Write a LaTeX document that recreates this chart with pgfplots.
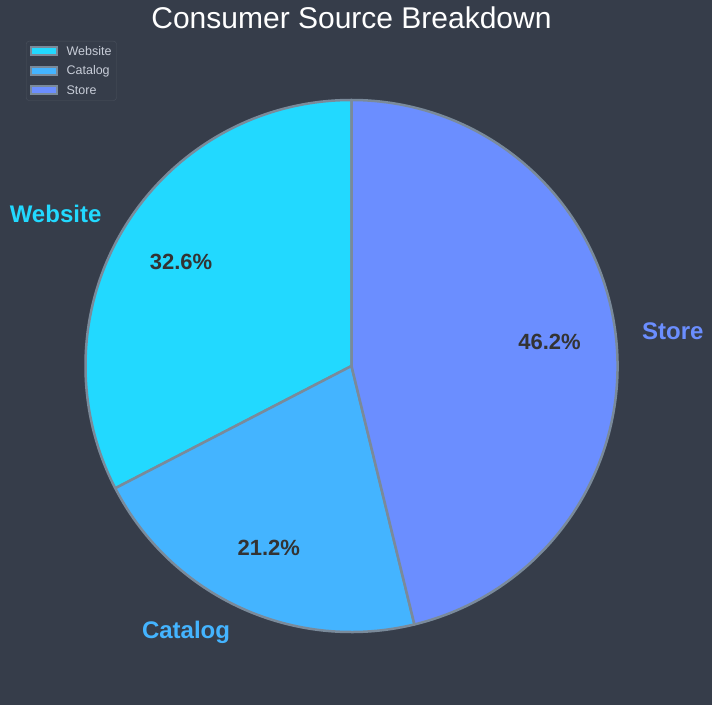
\documentclass[border=0pt]{standalone}
\usepackage{pgfplots}
\usepackage{pgfplotstable}
\pgfplotsset{compat=1.18}
\usepackage{fontspec}
\setmainfont{Liberation Sans}
\definecolor{bg}{HTML}{363D4A}
\definecolor{cweb}{HTML}{22D9FF}
\definecolor{ccat}{HTML}{44B4FF}
\definecolor{csto}{HTML}{6B8EFF}
\definecolor{edge}{HTML}{7A8A9A}
\definecolor{legtext}{HTML}{C8CDD8}
\definecolor{legborder}{HTML}{4A515D}
\definecolor{pcttext}{HTML}{333333}
\pgfplotstableread{
label pct
Website 32.6
Catalog 21.2
Store 46.2
}\datatable
\begin{document}
\begin{tikzpicture}
\pgfplotstablegetelem{0}{pct}\of\datatable \let\pA\pgfplotsretval
\pgfplotstablegetelem{1}{pct}\of\datatable \let\pB\pgfplotsretval
\pgfplotstablegetelem{2}{pct}\of\datatable \let\pC\pgfplotsretval
\pgfmathsetmacro\aA{90}
\pgfmathsetmacro\aB{90+3.6*\pA}
\pgfmathsetmacro\aC{\aB+3.6*\pB}
\pgfmathsetmacro\aD{\aC+3.6*\pC}
\pgfmathsetmacro\mA{(\aA+\aB)/2}
\pgfmathsetmacro\mB{(\aB+\aC)/2}
\pgfmathsetmacro\mC{(\aC+\aD)/2}
\begin{axis}[
  x=1pt, y=1pt, xmin=0, xmax=712, ymin=0, ymax=705,
  hide axis, clip=false, scale only axis,
  legend image code/.code={\draw[#1, sharp corners, line width=2pt] (0pt,-4pt) rectangle (26pt,4pt); \path (-1pt,0) (34pt,0);},
  legend style={at={(axis cs:26,664)}, anchor=north west, fill=bg, draw=legborder,
    rounded corners=3pt, text=legtext, font=\fontsize{12.5}{14}\selectfont,
    inner xsep=4pt, inner ysep=4pt, row sep=7pt, nodes={inner sep=1pt}},
  legend cell align=left,
]
\fill[bg] (axis cs:0,0) rectangle (axis cs:712,705);
\addlegendimage{fill=cweb, draw=edge}
\addlegendentry{Website}
\addlegendimage{fill=ccat, draw=edge}
\addlegendentry{Catalog}
\addlegendimage{fill=csto, draw=edge}
\addlegendentry{Store}
\filldraw[fill=cweb, draw=edge, line width=2.5pt, line join=round] (axis cs:351.5,339) -- ++(\aA:266pt) arc[start angle=\aA, end angle=\aB, radius=266pt] -- cycle;
\filldraw[fill=ccat, draw=edge, line width=2.5pt, line join=round] (axis cs:351.5,339) -- ++(\aB:266pt) arc[start angle=\aB, end angle=\aC, radius=266pt] -- cycle;
\filldraw[fill=csto, draw=edge, line width=2.5pt, line join=round] (axis cs:351.5,339) -- ++(\aC:266pt) arc[start angle=\aC, end angle=\aD, radius=266pt] -- cycle;
\path (axis cs:351.5,339) ++(\mA:292.6pt) node[anchor=east, inner sep=0pt, text=cweb, font=\bfseries\fontsize{24}{28}\selectfont] {Website};
\path (axis cs:351.5,339) ++(\mB:292.6pt) node[anchor=east, inner sep=0pt, text=ccat, font=\bfseries\fontsize{24}{28}\selectfont] {Catalog};
\path (axis cs:351.5,339) ++(\mC:292.6pt) node[anchor=west, inner sep=0pt, text=csto, font=\bfseries\fontsize{24}{28}\selectfont] {Store};
\path (axis cs:351.5,339) ++(\mA:199.5pt) node[inner sep=0pt, text=pcttext, font=\bfseries\fontsize{22}{24}\selectfont] {\pA\%};
\path (axis cs:351.5,339) ++(\mB:199.5pt) node[inner sep=0pt, text=pcttext, font=\bfseries\fontsize{22}{24}\selectfont] {\pB\%};
\path (axis cs:351.5,339) ++(\mC:199.5pt) node[inner sep=0pt, text=pcttext, font=\bfseries\fontsize{22}{24}\selectfont] {\pC\%};
\node[text=white, font=\fontsize{30}{34}\selectfont, inner sep=0pt] at (axis cs:351.5,687) {Consumer Source Breakdown};
\end{axis}
\end{tikzpicture}
\end{document}
